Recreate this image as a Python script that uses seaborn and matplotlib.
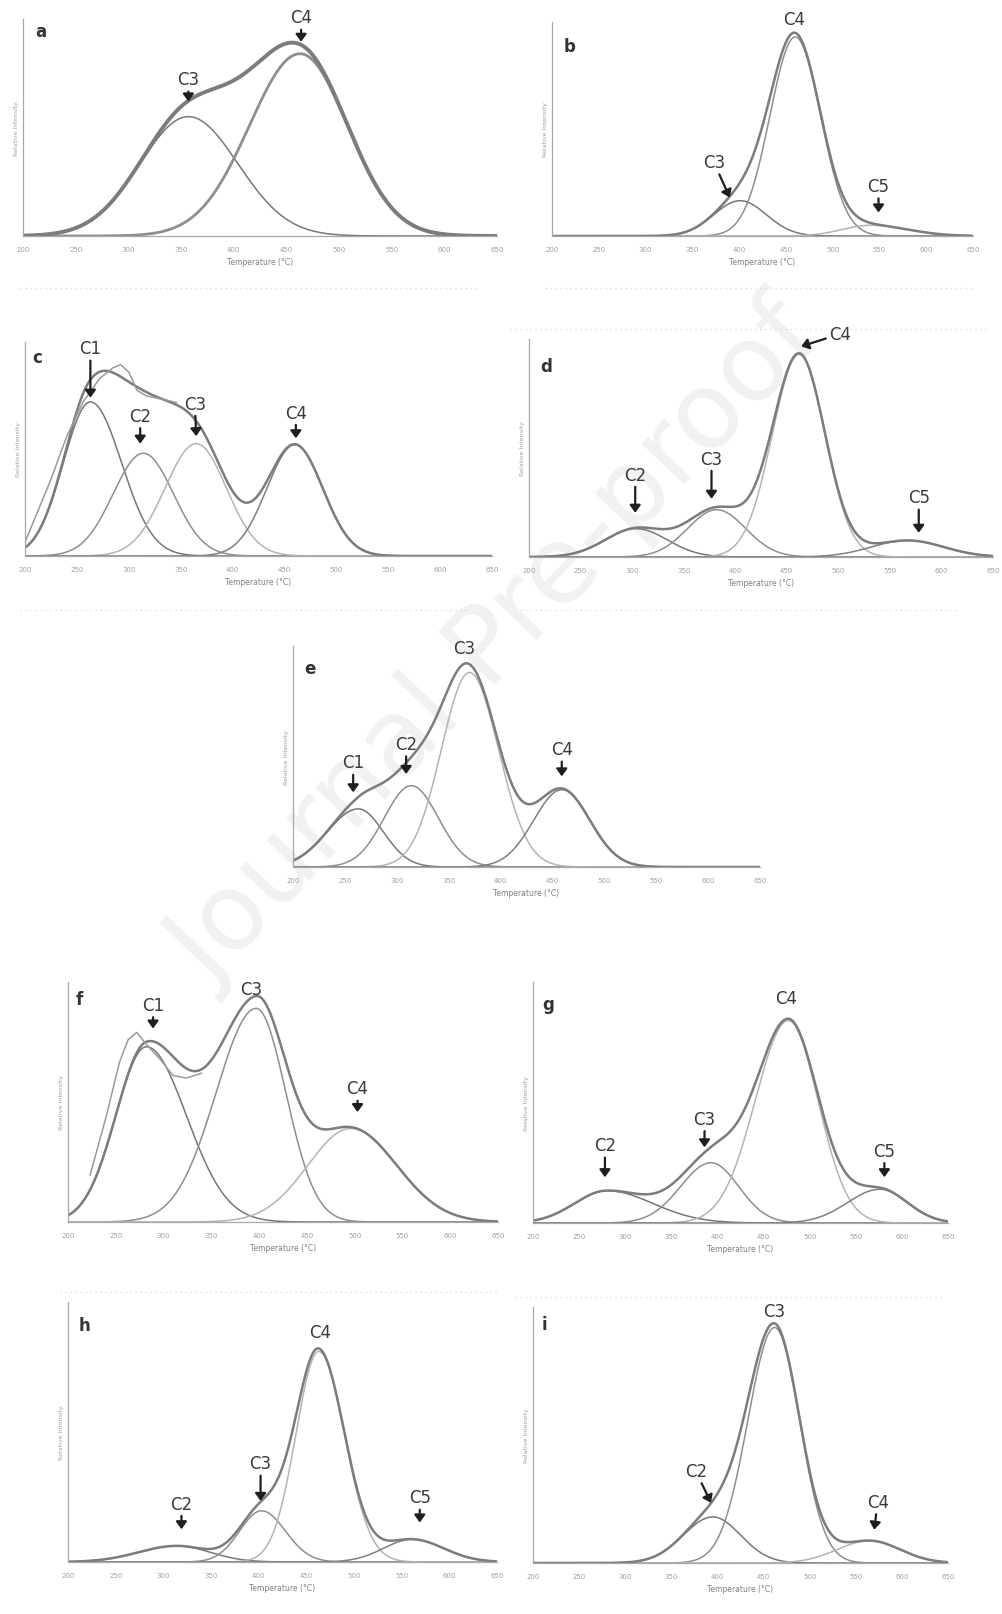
import numpy as np
import seaborn as sns
import matplotlib.pyplot as plt
from matplotlib.lines import Line2D
from matplotlib.ticker import MultipleLocator

# Deconvolved peaks:
# peak temperature (°C), relative height, half-width left / right of the peak (°C)
a_names = ['C3', 'C4']
a_centre = [357, 463]
a_height = [0.55, 0.84]
a_wleft = [46, 48]
a_wright = [47, 45]

b_names = ['C3', 'C4', 'C5']
b_centre = [401, 460, 540]
b_height = [0.165, 0.93, 0.05]
b_wleft = [28, 27, 30]
b_wright = [28, 27, 40]

c_names = ['C1', 'C2', 'C3', 'C4']
c_centre = [263, 314, 365, 460]
c_height = [0.72, 0.48, 0.525, 0.52]
c_wleft = [26, 29, 30, 27]
c_wright = [30, 29, 29, 27]

d_names = ['C2', 'C3', 'C4', 'C5']
d_centre = [304, 382, 462, 567]
d_height = [0.13, 0.217, 0.93, 0.076]
d_wleft = [30, 28, 26, 35]
d_wright = [30, 28, 25, 35]

e_names = ['C1', 'C2', 'C3', 'C4']
e_centre = [263, 314, 370, 459]
e_height = [0.263, 0.368, 0.88, 0.35]
e_wleft = [30, 26, 27, 27]
e_wright = [24, 26, 28, 27]

f_names = ['C1', 'C3', 'C4']
f_centre = [282, 397, 496]
f_height = [0.73, 0.89, 0.39]
f_wleft = [32, 42, 45]
f_wright = [42, 31, 48]

g_names = ['C2', 'C3', 'C4', 'C5']
g_centre = [280, 393, 477, 576]
g_height = [0.134, 0.25, 0.84, 0.14]
g_wleft = [35, 33, 36, 35]
g_wright = [50, 30, 32, 30]

h_names = ['C2', 'C3', 'C4', 'C5']
h_centre = [314, 403, 463, 561]
h_height = [0.062, 0.197, 0.81, 0.087]
h_wleft = [40, 23, 24, 30]
h_wright = [35, 25, 27, 33]

i_names = ['C2', 'C3', 'C4']
i_centre = [395, 462, 565]
i_height = [0.18, 0.92, 0.087]
i_wleft = [32, 29, 35]
i_wright = [30, 27, 33]

# measured profile where it departs from the fitted envelope
c_meas_t = [200, 224, 240, 256, 272, 285, 292, 300, 308, 317, 330, 346]
c_meas_y = [0.065, 0.346, 0.556, 0.72, 0.83, 0.88, 0.894, 0.86, 0.774, 0.748, 0.735, 0.717]
f_meas_t = [223, 240, 254, 263, 272, 282, 296, 310, 324, 340]
f_meas_y = [0.194, 0.44, 0.667, 0.76, 0.79, 0.74, 0.68, 0.61, 0.6, 0.62]

# labels: (text, arrow tip °C, arrow tip height, text offset x pt, text offset y pt)
a_marks = [('C3', 357, 0.62, 0, 16), ('C4', 464, 0.895, 0, 17.5)]
b_marks = [('C3', 390, 0.18, -11.5, 25.5), ('C4', 459, 1.016, 0, 0), ('C5', 549, 0.11, 0, 19)]
c_marks = [('C1', 263, 0.74, 0, 35.5), ('C2', 311, 0.525, 0, 20),
           ('C3', 365, 0.56, -1, 23.5), ('C4', 461, 0.55, 0, 18.5)]
d_marks = [('C2', 303, 0.203, 0, 27.5), ('C3', 377, 0.267, 0, 29),
           ('C4', 464, 0.966, 28, 9), ('C5', 578, 0.111, 0, 25.5)]
e_marks = [('C1', 258, 0.338, 0, 21.5), ('C2', 309, 0.421, 0, 21.5),
           ('C3', 365, 0.992, 0, 0), ('C4', 459, 0.41, 0, 19.5)]
f_marks = [('C1', 289, 0.806, 0, 17), ('C3', 392, 0.972, 0, 0), ('C4', 503, 0.458, 0, 17)]
g_marks = [('C2', 278, 0.19, 0, 23), ('C3', 386, 0.314, 0, 20.5),
           ('C4', 475, 0.933, 0, 0), ('C5', 581, 0.19, 0, 19)]
h_marks = [('C2', 319, 0.126, 0, 18.5), ('C3', 402, 0.235, 0, 27),
           ('C4', 464, 0.884, 0, 0), ('C5', 569, 0.152, 0, 18)]
i_marks = [('C2', 393, 0.235, -11, 23), ('C3', 462, 0.983, 0, 0), ('C4', 570, 0.13, 2.5, 20)]

panels = {
    'a': (a_names, a_centre, a_height, a_wleft, a_wright, a_marks),
    'b': (b_names, b_centre, b_height, b_wleft, b_wright, b_marks),
    'c': (c_names, c_centre, c_height, c_wleft, c_wright, c_marks),
    'd': (d_names, d_centre, d_height, d_wleft, d_wright, d_marks),
    'e': (e_names, e_centre, e_height, e_wleft, e_wright, e_marks),
    'f': (f_names, f_centre, f_height, f_wleft, f_wright, f_marks),
    'g': (g_names, g_centre, g_height, g_wleft, g_wright, g_marks),
    'h': (h_names, h_centre, h_height, h_wleft, h_wright, h_marks),
    'i': (i_names, i_centre, i_height, i_wleft, i_wright, i_marks),
}
measured = {'c': (c_meas_t, c_meas_y), 'f': (f_meas_t, f_meas_y)}

# panel boxes in pixels: left, top, right, baseline
W, H = 1003, 1615
boxes = {
    'a': (23, 20, 497, 237), 'b': (552, 23, 973, 237),
    'c': (25, 343, 492, 557), 'd': (529, 340, 993, 558),
    'e': (293, 647, 760, 868),
    'f': (68, 983, 498, 1223), 'g': (533, 983, 948, 1224),
    'h': (68, 1303, 497, 1563), 'i': (533, 1308, 948, 1564),
}
letter_pos = {'a': (0.037, 0.946), 'b': (0.042, 0.89), 'c': (0.026, 0.93),
              'd': (0.037, 0.878), 'e': (0.036, 0.902), 'f': (0.027, 0.93),
              'g': (0.036, 0.91), 'h': (0.039, 0.91), 'i': (0.028, 0.935)}
shades = ['#777777', '#8e8e8e', '#b4b4b4', '#7f7f7f', '#a0a0a0']

sns.set_style('white')
plt.rcParams['font.family'] = ['DejaVu Sans']

fig = plt.figure(figsize=(W / 100, H / 100), dpi=100)

# watermark
fig.text(0.495, 1 - 645 / H, 'Journal Pre-proof', fontsize=77, color='#f1f1f1',
         rotation=46.5, ha='center', va='center', zorder=-5)

# dotted separators
for y, x0, x1 in [(289, 20, 480), (289, 545, 975), (330, 510, 990),
                  (611, 20, 470), (611, 520, 960), (1293, 60, 500), (1298, 515, 945)]:
    fig.add_artist(Line2D([x0 / W, x1 / W], [1 - y / H, 1 - y / H], color='#d6d6d6',
                          lw=0.9, ls=(0, (1, 3))))

T = np.linspace(200, 650, 901)


def peak(c, h, wl, wr):
    w = np.where(T < c, wl, wr)
    return h * np.exp(-0.5 * ((T - c) / w) ** 2)


for key, (names, centre, height, wl, wr, marks) in panels.items():
    x0, top, x1, base = boxes[key]
    ax = fig.add_axes([x0 / W, 1 - base / H, (x1 - x0) / W, (base - top) / H])
    ax.set_facecolor('none')

    total = np.zeros_like(T)
    for k in range(len(names)):
        y = peak(centre[k], height[k], wl[k], wr[k])
        total += y
        sns.lineplot(x=T, y=y, ax=ax, color=shades[k % len(shades)],
                     lw=2.0 if (key == 'a' and k == 1) else 1.1, errorbar=None)
    sns.lineplot(x=T, y=total, ax=ax, color='#7c7c7c',
                 lw=2.8 if key == 'a' else 1.8, errorbar=None)
    if key in measured:
        mt, my = measured[key]
        sns.lineplot(x=mt, y=my, ax=ax, color='#9a9a9a', lw=1.1, errorbar=None)

    for text, tx, ty, dx, dy in marks:
        if dx == 0 and dy == 0:
            ax.text(tx, ty, text, ha='center', va='center', fontsize=12,
                    color='#3a3a3a', clip_on=False)
        else:
            ax.annotate(text, xy=(tx, ty), xytext=(dx, dy), textcoords='offset points',
                        ha='center', va='center', fontsize=12, color='#3a3a3a',
                        annotation_clip=False,
                        arrowprops=dict(arrowstyle='-|>,head_length=0.55,head_width=0.4',
                                        color='#1e1e1e', lw=1.6, mutation_scale=8,
                                        shrinkA=0, shrinkB=0))

    lx, ly = letter_pos[key]
    ax.text(lx, ly, key, transform=ax.transAxes, fontsize=12, fontweight='bold',
            color='#333333', ha='center', va='center')

    ax.set_xlim(200, 650)
    ax.set_ylim(0, 1)
    ax.xaxis.set_major_locator(MultipleLocator(50))
    ax.yaxis.set_major_locator(MultipleLocator(0.1))
    ax.yaxis.set_minor_locator(MultipleLocator(0.02))
    ax.tick_params(axis='x', which='major', direction='in', length=2, width=0.6,
                   color='#aaaaaa', labelsize=5, labelcolor='#a0a0a0', pad=7)
    ax.tick_params(axis='y', which='both', direction='out', length=1.3, width=0.6,
                   color='#bbbbbb', labelleft=False)
    for s in ['top', 'right']:
        ax.spines[s].set_visible(False)
    for s in ['left', 'bottom']:
        ax.spines[s].set_color('#a8a8a8')
        ax.spines[s].set_linewidth(0.9)
    ax.set_xlabel('Temperature (°C)', fontsize=5.5, color='#808080', labelpad=4)
    ax.set_ylabel('Relative Intensity', fontsize=4.5, color='#a0a0a0', labelpad=3)

fig.savefig('out.png', dpi=100)
